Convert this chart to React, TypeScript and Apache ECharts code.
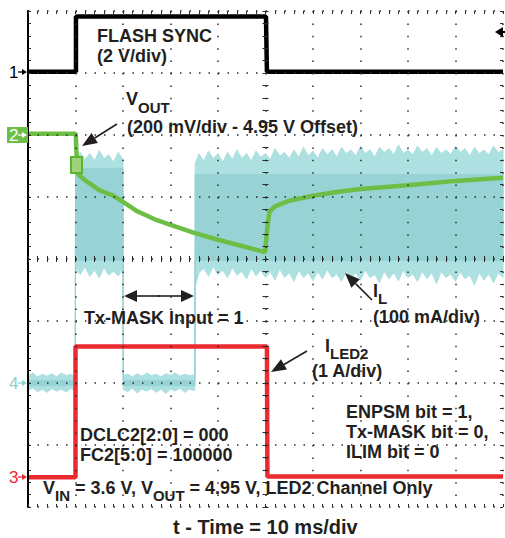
import React, { useEffect, useRef } from "react";
import * as echarts from "echarts";

// ---- data (time in ms, amplitude in screen divisions, 0 = centre line) ----
const FLASH_T = [0, 10.1, 10.1, 50.1, 50.3, 100];
const FLASH_V = [3.02, 3.02, 3.91, 3.91, 3.02, 3.02];

const VOUT_T = [0, 10.05, 10.2, 10.5, 12, 13.5, 15, 18, 20, 23, 27, 30, 35, 40, 45, 49.9, 50.3, 50.8, 52, 55, 60, 65, 70, 80, 90, 100];
const VOUT_V = [2.02, 2.02, 1.71, 1.37, 1.27, 1.19, 1.11, 1.02, 0.92, 0.77, 0.63, 0.55, 0.42, 0.31, 0.21, 0.11, 0.44, 0.76, 0.85, 0.94, 1.02, 1.08, 1.13, 1.19, 1.26, 1.31];

const ILED_T = [0, 10, 10, 50.3, 50.4, 100];
const ILED_V = [-3.52, -3.52, -1.41, -1.41, -3.51, -3.51];

// inductor current: [t, low, high] envelopes
const IL_CORE = [
  [0, -2.04, -1.96], [9.95, -2.04, -1.96],
  [10, -0.02, 1.46], [20, -0.02, 1.46],
  [20.05, -2.04, -1.96], [35.15, -2.04, -1.96],
  [35.2, -0.02, 1.36], [100, -0.02, 1.36],
];
const IL_OUTER = [
  [0, -2.12, -1.88], [1, -2.08, -1.84], [2, -2.14, -1.9], [3, -2.1, -1.86], [4, -2.15, -1.89],
  [5, -2.09, -1.85], [6, -2.13, -1.9], [7, -2.1, -1.84], [8, -2.14, -1.88], [9, -2.09, -1.86], [9.95, -2.12, -1.9],
  [10, -0.15, 1.55], [11, -0.25, 1.72], [12, -0.12, 1.6], [13, -0.28, 1.7], [14, -0.18, 1.58], [15, -0.3, 1.75],
  [16, -0.14, 1.62], [17, -0.26, 1.68], [18, -0.2, 1.56], [19, -0.27, 1.72], [20, -0.15, 1.6],
  [20.05, -2.1, -1.88], [21, -2.14, -1.86], [22, -2.08, -1.9], [23, -2.16, -1.85], [24, -2.1, -1.89],
  [25, -2.13, -1.84], [26, -2.09, -1.88], [27, -2.15, -1.86], [28, -2.1, -1.9], [29, -2.17, -1.85],
  [30, -2.1, -1.88], [31, -2.13, -1.84], [32, -2.08, -1.89], [33, -2.15, -1.86], [34, -2.1, -1.88], [35.1, -2.12, -1.87],
  [35.2, -0.45, 1.55], [36, -0.22, 1.7], [37, -0.15, 1.58], [38, -0.28, 1.74], [39, -0.12, 1.62],
  [40, -0.25, 1.7], [41, -0.18, 1.56], [42, -0.3, 1.72], [43, -0.14, 1.6], [44, -0.26, 1.76],
  [45, -0.2, 1.62], [46, -0.32, 1.7], [47, -0.15, 1.58], [48, -0.27, 1.74], [49, -0.18, 1.64],
  [50, -0.3, 1.7], [51, -0.2, 1.6], [52, -0.34, 1.78], [53, -0.16, 1.66], [54, -0.3, 1.72],
  [55, -0.22, 1.62], [56, -0.36, 1.76], [57, -0.18, 1.64], [58, -0.3, 1.8], [59, -0.22, 1.66],
  [60, -0.35, 1.74], [61, -0.2, 1.62], [62, -0.32, 1.78], [63, -0.17, 1.68], [64, -0.3, 1.76],
  [65, -0.24, 1.64], [66, -0.36, 1.8], [67, -0.2, 1.7], [68, -0.3, 1.76], [69, -0.22, 1.66],
  [70, -0.34, 1.82], [71, -0.18, 1.7], [72, -0.3, 1.76], [73, -0.25, 1.64], [74, -0.38, 1.8],
  [75, -0.2, 1.72], [76, -0.32, 1.78], [77, -0.22, 1.68], [78, -0.35, 1.84], [79, -0.18, 1.7],
  [80, -0.3, 1.76], [81, -0.24, 1.68], [82, -0.36, 1.82], [83, -0.2, 1.72], [84, -0.32, 1.78],
  [85, -0.22, 1.66], [86, -0.4, 1.8], [87, -0.2, 1.7], [88, -0.3, 1.76], [89, -0.24, 1.68],
  [90, -0.36, 1.82], [91, -0.2, 1.72], [92, -0.32, 1.78], [93, -0.26, 1.66], [94, -0.42, 1.8],
  [95, -0.22, 1.7], [96, -0.34, 1.76], [97, -0.24, 1.68], [98, -0.38, 1.82], [99, -0.22, 1.72], [100, -0.3, 1.76],
];

const X_MIN = 0, X_MAX = 100, X_DIV = 10;
const Y_MIN = -4, Y_MAX = 4, Y_DIV = 1;

const FONT = "'Liberation Sans', Arial, Helvetica, sans-serif";
const TXT = "#231f20";
const GREEN = "#6cbe45";
const RED = "#ec2a2f";
const CYAN = "#97d3d4";
const CYAN_LIGHT = "#ade0e0";

let measureCtx: CanvasRenderingContext2D | null = null;
function textWidth(text: string, size: number) {
  if (!measureCtx) measureCtx = document.createElement("canvas").getContext("2d");
  if (!measureCtx) return text.length * size * 0.6;
  measureCtx.font = `bold ${size}px ${FONT}`;
  return measureCtx.measureText(text).width;
}

function label(x: number, y: number, text: string, size = 18) {
  return {
    type: "text", x, y, z: 100,
    style: { text, fill: TXT, fontFamily: FONT, fontSize: size, fontWeight: "bold", align: "left", verticalAlign: "middle" },
  };
}

// text with subscripts: parts = [text, isSub]
function subLabel(x: number, y: number, parts: [string, boolean][], drop = 8) {
  const els: any[] = [];
  let cx = x;
  for (const [t, s] of parts) {
    const size = s ? 15 : 18;
    els.push(label(cx, s ? y + drop : y, t, size));
    cx += textWidth(t, size);
  }
  return els;
}

function arrow(x1: number, y1: number, x2: number, y2: number, color = TXT, head = 15, half = 6, w = 1.6) {
  const dx = x2 - x1, dy = y2 - y1;
  const L = Math.hypot(dx, dy);
  const ux = dx / L, uy = dy / L;
  const bx = x2 - ux * head, by = y2 - uy * head;
  const px = -uy, py = ux;
  return [
    { type: "line", z: 100, shape: { x1, y1, x2: bx, y2: by }, style: { stroke: color, lineWidth: w } },
    {
      type: "polygon", z: 100,
      shape: { points: [[x2, y2], [bx + px * half, by + py * half], [bx - px * half, by - py * half]] },
      style: { fill: color },
    },
  ];
}

function chMarker(ch: string, y: number, color: string, textColor: string, box = false) {
  const els: any[] = [];
  if (box) els.push({ type: "rect", z: 99, shape: { x: 7, y: y - 8, width: 21, height: 16 }, style: { fill: color } });
  els.push({
    type: "text", x: 9, y, z: 100,
    style: { text: ch, fill: textColor, fontFamily: FONT, fontSize: 17, align: "left", verticalAlign: "middle" },
  });
  els.push(...arrow(18, y, 27, y, textColor, 5, 3, 1.3));
  return els;
}

function bandRenderer(points: number[][], color: string) {
  return (params: any, api: any) => {
    if (params.dataIndex !== 0) return null;
    const up = points.map((p) => api.coord([p[0], p[2]]));
    const lo = points.slice().reverse().map((p) => api.coord([p[0], p[1]]));
    return { type: "polygon", shape: { points: up.concat(lo) }, style: { fill: color, stroke: color, lineWidth: 1 } };
  };
}

const zip = (a: number[], b: number[]) => a.map((v, i) => [v, b[i]]);

export default function App() {
  const ref = useRef<HTMLDivElement>(null);
  useEffect(() => {
    if (!ref.current) return;
    const chart = echarts.init(ref.current, null, { renderer: "svg" });
    const dotX = { color: "#2a2a2a", width: 1.5, type: [1.5, 10.9] };
    const dotY = { color: "#2a2a2a", width: 1.5, type: [1.5, 8] };
    const tick = (inside: boolean) => ({ show: true, inside, length: 3, lineStyle: { color: "#2a2a2a", width: 1 } });
    const minor = { show: true, splitNumber: 5, length: 3, lineStyle: { color: "#2a2a2a", width: 1 } };
    const baseX = {
      type: "value", min: X_MIN, max: X_MAX, interval: X_DIV, z: 5,
      axisLabel: { show: false }, splitLine: { show: false },
    };
    const baseY = {
      type: "value", min: Y_MIN, max: Y_MAX, interval: Y_DIV, z: 5,
      axisLabel: { show: false }, splitLine: { show: false },
    };
    const option: any = {
      animation: false,
      backgroundColor: "#ffffff",
      grid: { left: 28, top: 11, width: 475, height: 496, show: false },
      xAxis: [
        { ...baseX, position: "bottom", axisLine: { show: false, onZero: false }, axisTick: tick(true), minorTick: minor, splitLine: { show: true, lineStyle: dotX } },
        { ...baseX, position: "top", axisLine: { show: false, onZero: false }, axisTick: tick(true), minorTick: minor },
        { ...baseX, position: "bottom", offset: -248, axisLine: { show: false, onZero: false }, axisTick: tick(true), minorTick: minor },
        { ...baseX, position: "bottom", offset: -248, axisLine: { show: false, onZero: false }, axisTick: tick(false), minorTick: minor },
      ],
      yAxis: [
        { ...baseY, position: "left", axisLine: { show: true, onZero: false, lineStyle: { color: "#000", width: 2 } }, axisTick: tick(true), minorTick: minor, splitLine: { show: true, lineStyle: dotY } },
        { ...baseY, position: "right", axisLine: { show: false, onZero: false }, axisTick: tick(true), minorTick: minor },
        { ...baseY, position: "left", offset: -237.5, axisLine: { show: false, onZero: false }, axisTick: tick(true), minorTick: minor },
        { ...baseY, position: "left", offset: -237.5, axisLine: { show: false, onZero: false }, axisTick: tick(false), minorTick: minor },
      ],
      series: [
        { type: "custom", name: "IL fringe", data: IL_OUTER, encode: { x: 0, y: [1, 2] }, renderItem: bandRenderer(IL_OUTER, CYAN_LIGHT), z: 1, silent: true },
        { type: "custom", name: "IL", data: IL_CORE, encode: { x: 0, y: [1, 2] }, renderItem: bandRenderer(IL_CORE, CYAN), z: 1, silent: true },
        { type: "line", name: "VOUT", data: zip(VOUT_T, VOUT_V), symbol: "none", lineStyle: { color: GREEN, width: 4.5 }, z: 3 },
        { type: "line", name: "FLASH SYNC", data: zip(FLASH_T, FLASH_V), symbol: "none", lineStyle: { color: "#000", width: 4.5 }, z: 3 },
        { type: "line", name: "ILED2", data: zip(ILED_T, ILED_V), symbol: "none", lineStyle: { color: RED, width: 4.5 }, z: 4 },
      ],
      graphic: {
        elements: [
          label(97, 36, "FLASH SYNC"),
          label(97, 56, "(2 V/div)"),
          ...subLabel(126, 99, [["V", false], ["OUT", true]]),
          label(127, 127, "(200 mV/div - 4.95 V Offset)"),
          ...arrow(117, 124, 82, 146),
          ...arrow(160, 296, 124, 296, TXT, 13, 6),
          ...arrow(158, 296, 194, 296, TXT, 13, 6),
          label(84, 318, "Tx-MASK Input = 1"),
          ...subLabel(373, 291, [["I", false], ["L", true]], 7),
          label(373, 316.5, "(100 mA/div)"),
          ...arrow(372, 300, 345, 273),
          ...subLabel(325, 346, [["I", false], ["LED2", true]], 7),
          label(312, 371, "(1 A/div)"),
          ...arrow(307, 351, 271, 372),
          label(80, 435, "DCLC2[2:0] = 000"),
          label(80, 455, "FC2[5:0] = 100000"),
          label(346, 412, "ENPSM bit = 1,"),
          label(346, 432, "Tx-MASK bit = 0,"),
          label(346, 452, "ILIM bit = 0"),
          ...subLabel(43, 487.5, [["V", false], ["IN", true], [" = 3.6 V, V", false], ["OUT", true], [" = 4.95 V, LED2 Channel Only", false]]),
          label(173, 527, "t - Time = 10 ms/div", 20),
          ...chMarker("1", 72, "#000", "#000"),
          ...chMarker("2", 135, GREEN, "#ffffff", true),
          ...chMarker("4", 383, CYAN, "#8ccfd0"),
          ...chMarker("3", 477, RED, RED),
          { type: "rect", z: 100, shape: { x: 71, y: 157, width: 11, height: 16 }, style: { fill: "#9fd27a", stroke: "#5cb531", lineWidth: 2 } },
          { type: "polygon", z: 100, shape: { points: [[495, 32], [503, 27], [503, 37]] }, style: { fill: "#000" } },
          { type: "line", z: 100, shape: { x1: 502, y1: 32, x2: 505, y2: 32 }, style: { stroke: "#000", lineWidth: 2 } },
        ],
      },
    };
    chart.setOption(option);
    return () => chart.dispose();
  }, []);
  return (
    <div
      ref={ref}
      style={{ position: "fixed", left: 0, top: 0, width: 505, height: 538, background: "#fff" }}
    />
  );
}
